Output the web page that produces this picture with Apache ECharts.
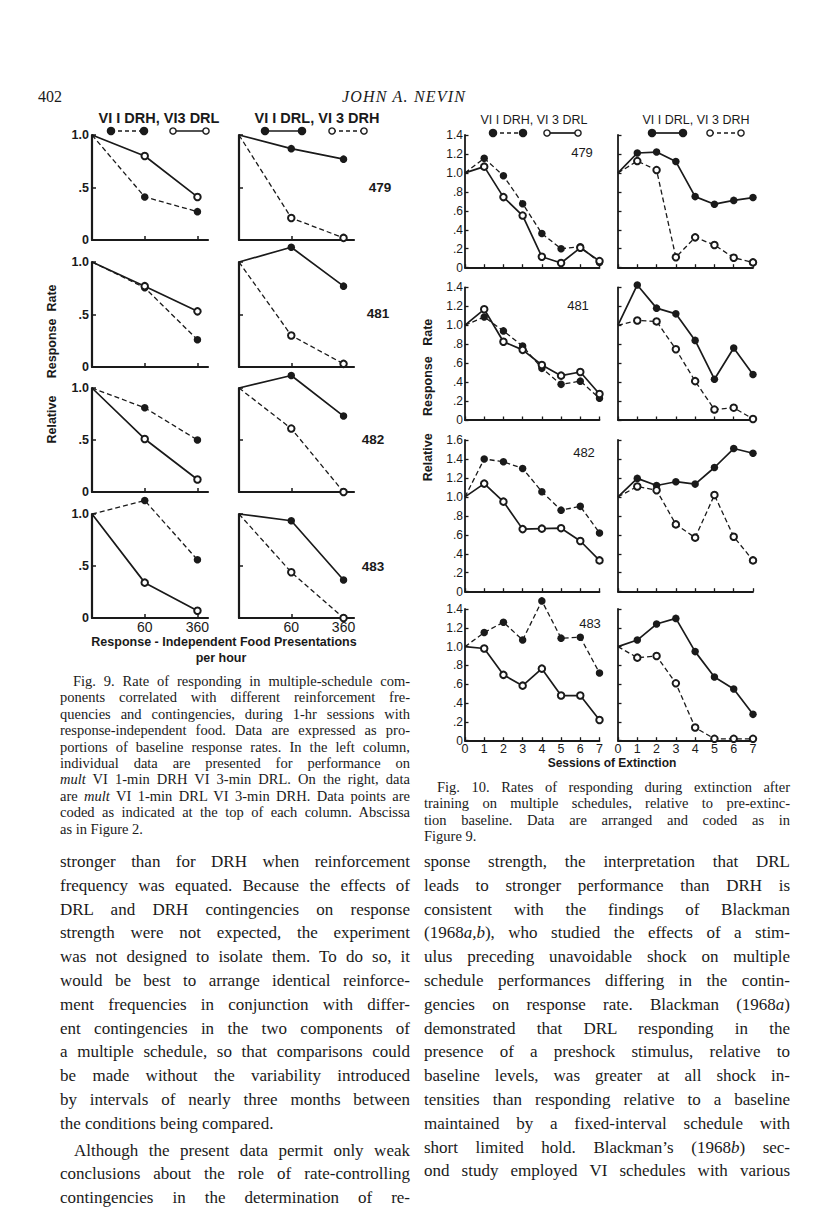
<!DOCTYPE html>
<html>
<head>
<meta charset="utf-8">
<script src="https://cdn.jsdelivr.net/npm/echarts@6/dist/echarts.min.js"></script>
<style>
  body { margin: 0; background: #fff; }
  #page { position: relative; width: 816px; height: 1207px; overflow: hidden; background: #fff; }
  #chart { position: absolute; left: 0; top: 0; width: 816px; height: 1207px; }
  .t { position: absolute; font-family: "Liberation Serif", serif; color: #1a1a1a; white-space: nowrap; line-height: 1; }
  .j { text-align: justify; text-align-last: justify; }
  .cap { font-size: 14.5px; }
  .body { font-size: 17px; }
</style>
</head>
<body>
<div id="page">
  <div id="chart"></div>
  <div id="text"></div>
</div>
<script>
/* data */

// Fig. 9: response-independent food per hour (x positions 0, 1, 2)
const fig9Doses = ['0', '60', '360'];
const fig9Birds = ['479', '481', '482', '483'];
// left column: VI 1 DRH (filled, dashed) and VI 3 DRL (open, solid)
const f9LeftDRH = [[1.0, 0.41, 0.27], [1.0, 0.755, 0.26], [1.0, 0.81, 0.50], [1.0, 1.13, 0.56]];
const f9LeftDRL = [[1.0, 0.80, 0.41], [1.0, 0.77, 0.53], [1.0, 0.51, 0.12], [1.0, 0.34, 0.07]];
// right column: VI 1 DRL (filled, solid) and VI 3 DRH (open, dashed)
const f9RightDRL = [[1.0, 0.87, 0.77], [1.0, 1.14, 0.77], [1.0, 1.12, 0.73], [1.0, 0.935, 0.365]];
const f9RightDRH = [[1.0, 0.21, 0.02], [1.0, 0.30, 0.03], [1.0, 0.61, 0.0], [1.0, 0.44, 0.0]];

// Fig. 10: sessions of extinction
const sessions = [0, 1, 2, 3, 4, 5, 6, 7];
const f10LeftDRH = [
  [1.0, 1.155, 0.97, 0.675, 0.36, 0.20, 0.22, 0.056],
  [1.0, 1.087, 0.94, 0.78, 0.545, 0.376, 0.41, 0.23],
  [1.0, 1.40, 1.37, 1.30, 1.055, 0.86, 0.90, 0.62],
  [1.0, 1.15, 1.26, 1.07, 1.486, 1.09, 1.10, 0.72]
];
const f10LeftDRL = [
  [1.0, 1.066, 0.745, 0.55, 0.115, 0.05, 0.21, 0.07],
  [1.0, 1.168, 0.826, 0.74, 0.58, 0.468, 0.506, 0.274],
  [1.0, 1.14, 0.95, 0.66, 0.665, 0.67, 0.535, 0.33],
  [1.0, 0.98, 0.70, 0.585, 0.766, 0.48, 0.48, 0.22]
];
const f10RightDRL = [
  [1.0, 1.21, 1.22, 1.12, 0.75, 0.67, 0.71, 0.74],
  [1.0, 1.425, 1.18, 1.12, 0.84, 0.43, 0.76, 0.48],
  [1.0, 1.195, 1.12, 1.16, 1.135, 1.31, 1.51, 1.46],
  [1.0, 1.07, 1.24, 1.30, 0.947, 0.677, 0.55, 0.28]
];
const f10RightDRH = [
  [1.0, 1.125, 1.03, 0.11, 0.32, 0.24, 0.105, 0.056],
  [1.0, 1.05, 1.04, 0.746, 0.41, 0.11, 0.13, 0.01],
  [1.0, 1.11, 1.07, 0.71, 0.57, 1.02, 0.58, 0.33],
  [1.0, 0.883, 0.90, 0.61, 0.14, 0.02, 0.02, 0.02]
];
const f10Max = [1.4, 1.4, 1.6, 1.4];

/* page layout */
const INK = '#1a1a1a';
const SANS = '"Liberation Sans", Arial, sans-serif';

const f9Cols = [{ left: 92, width: 116 }, { left: 239, width: 115 }];
const f9Rows = [{ top: 135, h: 105 }, { top: 262, h: 105 }, { top: 388, h: 104 }, { top: 514, h: 104 }];
const f9Num = [[380, 187], [378, 313], [373, 439], [373, 566]];
const f10Cols = [{ left: 465, width: 134.5 }, { left: 618, width: 135 }];
const f10Rows = [{ top: 135, h: 132.7 }, { top: 287.3, h: 132.7 }, { top: 440, h: 151.7 }, { top: 609, h: 131.7 }];
const f10Num = [[582, 152], [578, 305], [584, 452], [590, 623]];

const grids = [], xAxes = [], yAxes = [], series = [];

function addLine(g, xs, ys, filled, dashed) {
  series.push({
    type: 'line',
    xAxisIndex: g, yAxisIndex: g,
    clip: false,
    silent: true,
    animation: false,
    symbol: filled ? 'circle' : 'emptyCircle',
    symbolSize: filled ? 7.5 : 6.5,
    z: filled ? 2 : 3,
    itemStyle: { color: INK, borderColor: INK, borderWidth: filled ? 0 : 1.4 },
    lineStyle: { color: INK, width: dashed ? 1.3 : 1.7, type: dashed ? [5, 3] : 'solid' },
    data: ys.map((v, i) => i === 0 ? { value: [xs[i], v], symbol: 'none' } : [xs[i], v])
  });
}

function fmtRate(v) {
  if (v === 0) return '0';
  const s = v.toFixed(1);
  return v < 1 ? s.slice(1) : s;
}

// Fig. 9 panels
fig9Birds.forEach((bird, r) => {
  [0, 1].forEach(c => {
    const g = grids.length;
    const bottom = r === 3;
    grids.push({ left: f9Cols[c].left, width: f9Cols[c].width, top: f9Rows[r].top, height: f9Rows[r].h });
    xAxes.push({
      gridIndex: g, type: 'value', min: 0, max: 2.2,
      axisLine: { lineStyle: { color: INK, width: 2.2 } },
      axisTick: { inside: true, length: 4, customValues: [1, 2], lineStyle: { color: INK, width: 1.5 } },
      axisLabel: {
        show: bottom, customValues: [1, 2], formatter: v => fig9Doses[Math.round(v)],
        color: INK, fontFamily: SANS, fontSize: 14, margin: 2
      },
      splitLine: { show: false }
    });
    yAxes.push({
      gridIndex: g, type: 'value', min: 0, max: 1, interval: 0.5,
      axisLine: { show: true, lineStyle: { color: INK, width: 2.2 } },
      axisTick: { show: true, inside: true, length: 4, lineStyle: { color: INK, width: 1.5 } },
      axisLabel: { show: c === 0, formatter: fmtRate, color: INK, fontFamily: SANS, fontWeight: 'bold', fontSize: 12.5, margin: 3 },
      splitLine: { show: false }
    });
    const xs = [0, 1, 2];
    if (c === 0) {
      addLine(g, xs, f9LeftDRH[r], true, true);
      addLine(g, xs, f9LeftDRL[r], false, false);
    } else {
      addLine(g, xs, f9RightDRL[r], true, false);
      addLine(g, xs, f9RightDRH[r], false, true);
    }
  });
});

// Fig. 10 panels
fig9Birds.forEach((bird, r) => {
  [0, 1].forEach(c => {
    const g = grids.length;
    const bottom = r === 3;
    grids.push({ left: f10Cols[c].left, width: f10Cols[c].width, top: f10Rows[r].top, height: f10Rows[r].h });
    xAxes.push({
      gridIndex: g, type: 'value', min: 0, max: 7, interval: 1,
      axisLine: { lineStyle: { color: INK, width: 1.8 } },
      axisTick: { inside: true, length: 3.5, lineStyle: { color: INK, width: 1.3 } },
      axisLabel: { show: bottom, color: INK, fontFamily: SANS, fontSize: 12.5, margin: 2 },
      splitLine: { show: false }
    });
    yAxes.push({
      gridIndex: g, type: 'value', min: 0, max: f10Max[r], interval: 0.2,
      axisLine: { show: true, lineStyle: { color: INK, width: 1.8 } },
      axisTick: { show: true, inside: true, length: 3.5, lineStyle: { color: INK, width: 1.3 } },
      axisLabel: { show: c === 0, formatter: fmtRate, color: INK, fontFamily: SANS, fontSize: 12, margin: 2 },
      splitLine: { show: false }
    });
    if (c === 0) {
      addLine(g, sessions, f10LeftDRH[r], true, true);
      addLine(g, sessions, f10LeftDRL[r], false, false);
    } else {
      addLine(g, sessions, f10RightDRL[r], true, false);
      addLine(g, sessions, f10RightDRH[r], false, true);
    }
  });
});

/* decorations: headings, keys, panel numbers, axis titles */
function key(x1, x2, y, filled, dashed) {
  const dot = cx => ({
    type: 'circle', shape: { cx: cx, cy: y, r: filled ? 3.6 : 3.1 },
    style: { fill: filled ? INK : '#fff', stroke: INK, lineWidth: 1.4 }, z: 10
  });
  return [
    { type: 'line', shape: { x1: x1, y1: y, x2: x2, y2: y },
      style: { stroke: INK, lineWidth: dashed ? 1.3 : 1.7, lineDash: dashed ? [4, 3] : null }, z: 9 },
    dot(x1), dot(x2)
  ];
}
function label(text, x, y, size, weight, extra) {
  return Object.assign({
    type: 'text', x: x, y: y, z: 10,
    style: { text: text, fill: INK, font: (weight || 'normal') + ' ' + size + 'px ' + SANS, align: 'center', verticalAlign: 'middle' }
  }, extra || {});
}

const graphic = [];
graphic.push(label('VI I DRH, VI3 DRL', 159, 118, 14.5, 'bold'));
graphic.push(label('VI I DRL, VI 3 DRH', 317, 118, 14.5, 'bold'));
graphic.push(...key(111, 144, 131, true, true), ...key(173, 206, 131, false, false));
graphic.push(...key(265, 302, 131, true, false), ...key(332, 364, 131, false, true));
graphic.push(label('VI I DRH, VI 3 DRL', 534, 120, 12.5, 'normal'));
graphic.push(label('VI I DRL, VI 3 DRH', 696, 120, 12.5, 'normal'));
graphic.push(...key(493, 523, 133, true, true), ...key(547, 578, 133, false, false));
graphic.push(...key(652, 683, 133, true, false), ...key(710, 741, 133, false, true));
fig9Birds.forEach((b, r) => {
  graphic.push(label(b, f9Num[r][0], f9Num[r][1], 13.5, 'bold'));
  graphic.push(label(b, f10Num[r][0], f10Num[r][1], 13, 'normal'));
});
graphic.push(label('Response - Independent Food Presentations', 224, 642, 12.5, 'bold'));
graphic.push(label('per hour', 221, 658, 12.5, 'bold'));
graphic.push(label('Sessions of Extinction', 612, 763, 12, 'bold'));
graphic.push(label('Relative\u00a0\u00a0\u00a0\u00a0\u00a0Response\u00a0\u00a0Rate', 52, 364, 12.5, 'bold', { rotation: Math.PI / 2 }));
graphic.push(label('Relative\u00a0\u00a0\u00a0\u00a0\u00a0Response\u00a0\u00a0\u00a0Rate', 428, 400, 12.5, 'bold', { rotation: Math.PI / 2 }));

const chart = echarts.init(document.getElementById('chart'), null, { renderer: 'svg' });
chart.setOption({
  animation: false,
  backgroundColor: 'transparent',
  grid: grids,
  xAxis: xAxes,
  yAxis: yAxes,
  series: series,
  graphic: graphic
});

/* running text of the page */
const header = [
  { text: '402', x: 38, y: 89, size: 16 },
  { text: 'JOHN A. NEVIN', x: 342, y: 89, size: 16, italic: true, ls: 1.2 }
];
const cap9 = [
  'Fig. 9. Rate of responding in multiple-schedule com-',
  'ponents correlated with different reinforcement fre-',
  'quencies and contingencies, during 1-hr sessions with',
  'response-independent food. Data are expressed as pro-',
  'portions of baseline response rates. In the left column,',
  'individual data are presented for performance on',
  '<i>mult</i> VI 1-min DRH VI 3-min DRL. On the right, data',
  'are <i>mult</i> VI 1-min DRL VI 3-min DRH. Data points are',
  'coded as indicated at the top of each column. Abscissa',
  'as in Figure 2.'
];
const cap10 = [
  'Fig. 10. Rates of responding during extinction after',
  'training on multiple schedules, relative to pre-extinc-',
  'tion baseline. Data are arranged and coded as in',
  'Figure 9.'
];
const bodyLeft = [
  'stronger than for DRH when reinforcement',
  'frequency was equated. Because the effects of',
  'DRL and DRH contingencies on response',
  'strength were not expected, the experiment',
  'was not designed to isolate them. To do so, it',
  'would be best to arrange identical reinforce-',
  'ment frequencies in conjunction with differ-',
  'ent contingencies in the two components of',
  'a multiple schedule, so that comparisons could',
  'be made without the variability introduced',
  'by intervals of nearly three months between',
  'the conditions being compared.',
  'Although the present data permit only weak',
  'conclusions about the role of rate-controlling',
  'contingencies in the determination of re-'
];
const bodyRight = [
  'sponse strength, the interpretation that DRL',
  'leads to stronger performance than DRH is',
  'consistent with the findings of Blackman',
  '(1968<i>a,b</i>), who studied the effects of a stim-',
  'ulus preceding unavoidable shock on multiple',
  'schedule performances differing in the contin-',
  'gencies on response rate. Blackman (1968<i>a</i>)',
  'demonstrated that DRL responding in the',
  'presence of a preshock stimulus, relative to',
  'baseline levels, was greater at all shock in-',
  'tensities than responding relative to a baseline',
  'maintained by a fixed-interval schedule with',
  'short limited hold. Blackman\u2019s (1968<i>b</i>) sec-',
  'ond study employed VI schedules with various'
];

const box = document.getElementById('text');
function put(html, x, y, w, cls, justify) {
  const d = document.createElement('div');
  d.className = 't ' + cls + (justify ? ' j' : '');
  d.style.left = x + 'px';
  d.style.top = y + 'px';
  if (w) d.style.width = w + 'px';
  d.innerHTML = html;
  box.appendChild(d);
}
header.forEach(h => {
  const d = document.createElement('div');
  d.className = 't';
  d.style.left = h.x + 'px'; d.style.top = h.y + 'px';
  d.style.fontSize = h.size + 'px';
  if (h.italic) d.style.fontStyle = 'italic';
  if (h.ls) d.style.letterSpacing = h.ls + 'px';
  d.textContent = h.text;
  box.appendChild(d);
});
cap9.forEach((s, i) => {
  const last = i === cap9.length - 1;
  put(s, i === 0 ? 73 : 60, 674 + i * 16.4, last ? 0 : (i === 0 ? 337 : 350), 'cap', !last);
});
cap10.forEach((s, i) => {
  const last = i === cap10.length - 1;
  put(s, i === 0 ? 437 : 424, 780 + i * 16.4, last ? 0 : (i === 0 ? 353 : 366), 'cap', !last);
});
const LEAD = 23.8;
bodyLeft.forEach((s, i) => {
  const y = i < 12 ? 853 + i * LEAD : 853 + i * LEAD + 3;
  const last = i === 11;
  put(s, i === 12 ? 74 : 60, y, last ? 0 : (i === 12 ? 336 : 350), 'body', !last);
});
bodyRight.forEach((s, i) => {
  put(s, 424, 853 + i * LEAD, 366, 'body', true);
});
</script>
</body>
</html>
